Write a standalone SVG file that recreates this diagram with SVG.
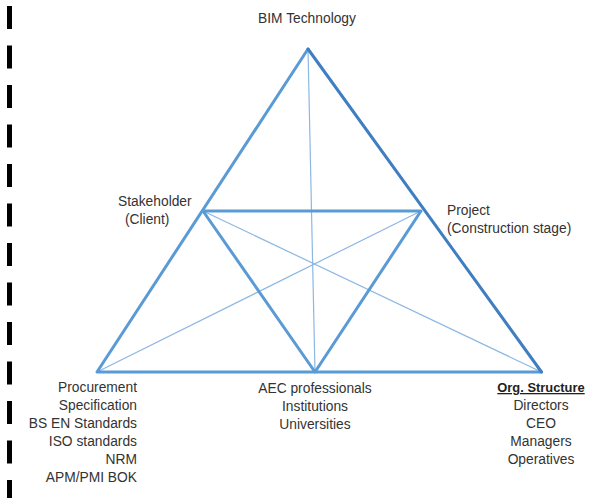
<svg xmlns="http://www.w3.org/2000/svg" width="591" height="498" viewBox="0 0 591 498">
<style>
text{font-family:"Liberation Sans",Arial,sans-serif;font-size:13.8px;fill:#333}
.thick{stroke:#5B9BD5;stroke-width:3;fill:none;stroke-linecap:round;stroke-linejoin:round}
.dark{stroke:#3F7FC1}
.thin{stroke:#8DB8E3;stroke-width:1.2;fill:none}
.mid{text-anchor:middle}
.end{text-anchor:end}
.bold{font-weight:bold;text-decoration:underline;font-size:12.9px;fill:#222}
</style>
<rect width="591" height="498" fill="#fff"/>
<line x1="9.5" y1="6" x2="9.5" y2="498" stroke="#000" stroke-width="5" stroke-dasharray="23 16.5"/>
<g id="connectors">
<line class="thin" x1="308" y1="49" x2="315" y2="372"/>
<line class="thin" x1="203" y1="211" x2="541.5" y2="372"/>
<line class="thin" x1="421" y1="211" x2="97" y2="372"/>
<polyline class="thick" points="541.5,372 97,372 308,49"/>
<line class="thick dark" x1="308" y1="49" x2="541.5" y2="372"/>
<polygon class="thick" points="203,211 421,211 315,372"/>
</g>
<g id="bim"><text class="mid" x="307" y="23">BIM Technology</text></g>
<g id="stakeholder"><text x="118" y="206">Stakeholder</text><text x="125" y="224">(Client)</text></g>
<g id="project"><text x="447" y="215">Project</text><text x="447" y="233">(Construction stage)</text></g>
<g id="procurement">
<text class="end" x="137" y="392">Procurement</text>
<text class="end" x="137" y="410">Specification</text>
<text class="end" x="137" y="428">BS EN Standards</text>
<text class="end" x="137" y="446">ISO standards</text>
<text class="end" x="137" y="464">NRM</text>
<text class="end" x="137" y="482">APM/PMI BOK</text>
</g>
<g id="aec">
<text class="mid" x="315" y="393">AEC professionals</text>
<text class="mid" x="315" y="411">Institutions</text>
<text class="mid" x="315" y="429">Universities</text>
</g>
<g id="org">
<text class="mid bold" x="541" y="392">Org. Structure</text>
<text class="mid" x="541" y="410">Directors</text>
<text class="mid" x="541" y="428">CEO</text>
<text class="mid" x="541" y="446">Managers</text>
<text class="mid" x="541" y="464">Operatives</text>
</g>
</svg>
